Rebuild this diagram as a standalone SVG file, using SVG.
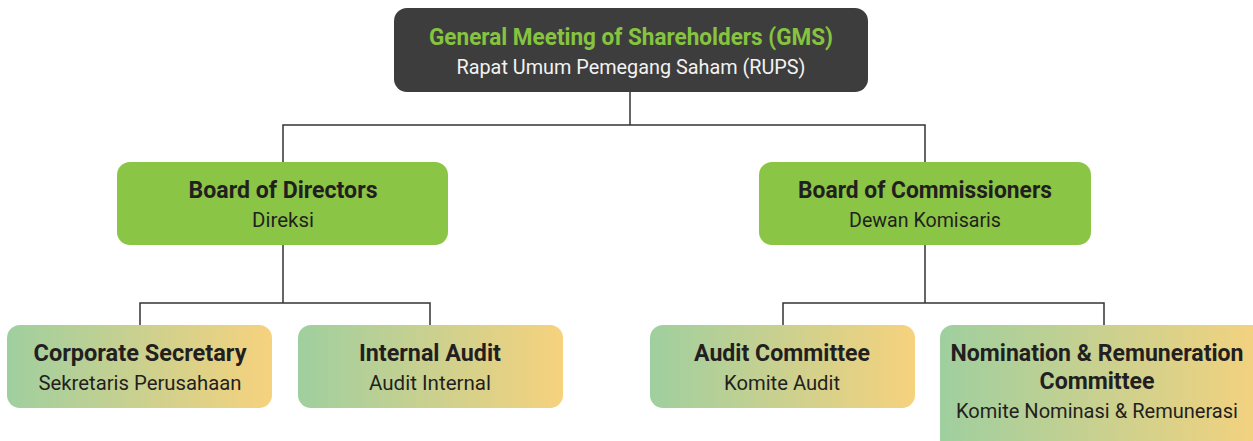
<svg xmlns="http://www.w3.org/2000/svg" width="1253" height="441" viewBox="0 0 1253 441">
<defs>
<linearGradient id="grad" x1="0" y1="0" x2="1" y2="0">
<stop offset="0" stop-color="#9fcf9f"/>
<stop offset="1" stop-color="#f6d27e"/>
</linearGradient>
<style>
text{font-family:Roboto,"Liberation Sans",sans-serif;text-anchor:middle;}
.t{font-weight:bold;font-size:23.5px;fill:#231f20;}
.s{font-size:19.5px;fill:#231f20;}
.conn{fill:none;stroke:#333;stroke-width:1.5;}
.green{fill:#8bc546;}
.grad{fill:url(#grad);}
</style>
</defs>
<rect width="1253" height="441" fill="#fff"/>
<g id="connectors">
<polyline class="conn" points="630,92 630,125"/>
<polyline class="conn" points="283,162 283,125 925,125 925,162"/>
<polyline class="conn" points="283,245 283,303"/>
<polyline class="conn" points="140,325 140,303 430,303 430,325"/>
<polyline class="conn" points="925,245 925,303"/>
<polyline class="conn" points="783,325 783,303 1104,303 1104,325"/>
</g>
<g id="gms">
<rect x="394" y="8" width="474" height="84" rx="13" fill="#3d3d3d"/>
<text x="631" y="45" class="t" style="fill:#86c440" textLength="404" lengthAdjust="spacingAndGlyphs">General Meeting of Shareholders (GMS)</text>
<text x="631" y="74" class="s" style="fill:#f2f2f2" textLength="349" lengthAdjust="spacingAndGlyphs">Rapat Umum Pemegang Saham (RUPS)</text>
</g>
<g id="bod">
<rect x="117" y="162" width="331" height="83" rx="13" class="green"/>
<text x="283" y="198" class="t" textLength="189" lengthAdjust="spacingAndGlyphs">Board of Directors</text>
<text x="283" y="227" class="s" textLength="62" lengthAdjust="spacingAndGlyphs">Direksi</text>
</g>
<g id="boc">
<rect x="759" y="162" width="332" height="83" rx="13" class="green"/>
<text x="925" y="198" class="t" textLength="254" lengthAdjust="spacingAndGlyphs">Board of Commissioners</text>
<text x="925" y="227" class="s" textLength="152" lengthAdjust="spacingAndGlyphs">Dewan Komisaris</text>
</g>
<g id="corsec">
<rect x="7" y="325" width="265" height="83" rx="13" class="grad"/>
<text x="140" y="361" class="t" textLength="213" lengthAdjust="spacingAndGlyphs">Corporate Secretary</text>
<text x="140" y="390" class="s" textLength="203" lengthAdjust="spacingAndGlyphs">Sekretaris Perusahaan</text>
</g>
<g id="internal-audit">
<rect x="298" y="325" width="265" height="83" rx="13" class="grad"/>
<text x="430" y="361" class="t" textLength="142" lengthAdjust="spacingAndGlyphs">Internal Audit</text>
<text x="430" y="390" class="s" textLength="122" lengthAdjust="spacingAndGlyphs">Audit Internal</text>
</g>
<g id="audit-committee">
<rect x="650" y="325" width="265" height="83" rx="13" class="grad"/>
<text x="782" y="361" class="t" textLength="176" lengthAdjust="spacingAndGlyphs">Audit Committee</text>
<text x="782" y="390" class="s" textLength="116" lengthAdjust="spacingAndGlyphs">Komite Audit</text>
</g>
<g id="nomination">
<rect x="940" y="325" width="330" height="130" rx="13" class="grad"/>
<text x="1097" y="361" class="t" textLength="293" lengthAdjust="spacingAndGlyphs">Nomination &amp; Remuneration</text>
<text x="1097" y="389" class="t" textLength="115" lengthAdjust="spacingAndGlyphs">Committee</text>
<text x="1097" y="418" class="s" textLength="282" lengthAdjust="spacingAndGlyphs">Komite Nominasi &amp; Remunerasi</text>
</g>
</svg>
